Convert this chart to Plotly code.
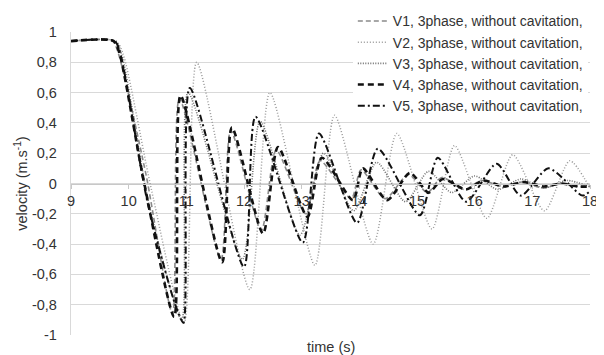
import plotly.graph_objects as go

# ---- data (time in s, velocity in m/s) ----
t_v1 = [9, 9.72, 9.82, 10.3, 10.76, 10.88, 11.6, 11.77, 12.3, 12.56, 13.07, 13.32, 13.86, 14.03, 14.45, 14.85, 15.18, 15.43, 15.82, 16.12, 16.48, 16.82, 17.18, 17.5, 17.8, 18]
v_v1 = [0.94, 0.94, 0.86, 0.06, -0.86, 0.56, -0.5, 0.35, -0.31, 0.22, -0.2, 0.15, -0.1, 0.09, -0.1, 0.06, -0.06, 0.04, -0.04, 0.02, -0.02, 0.01, -0.03, 0.0, -0.02, -0.02]

t_v2 = [9, 9.78, 9.9, 10.4, 10.96, 11.18, 12.1, 12.45, 13.23, 13.57, 14.24, 14.65, 15.26, 15.65, 16.21, 16.66, 17.21, 17.65, 18]
v_v2 = [0.94, 0.94, 0.86, -0.05, -0.92, 0.8, -0.7, 0.6, -0.54, 0.45, -0.4, 0.33, -0.3, 0.25, -0.23, 0.19, -0.18, 0.15, -0.03]

t_v3 = [9, 9.77, 9.88, 10.36, 10.92, 11.03, 11.97, 12.28, 12.97, 13.38, 13.9, 14.3, 14.8, 15.2, 15.6, 16.0, 16.4, 16.8, 17.2, 17.6, 18]
v_v3 = [0.94, 0.94, 0.85, -0.15, -0.9, 0.6, -0.5, 0.41, -0.34, 0.2, -0.18, 0.14, -0.12, 0.08, -0.06, 0.05, -0.04, 0.03, -0.03, 0.02, -0.02]

t_v4 = [9, 9.74, 9.84, 10.25, 10.79, 10.9, 11.62, 11.79, 12.33, 12.59, 13.1, 13.35, 13.89, 14.06, 14.48, 14.88, 15.2, 15.45, 15.85, 16.15, 16.5, 16.85, 17.2, 17.5, 17.8, 18]
v_v4 = [0.94, 0.94, 0.86, 0.04, -0.88, 0.58, -0.52, 0.37, -0.33, 0.24, -0.22, 0.17, -0.11, 0.1, -0.11, 0.07, -0.06, 0.03, -0.04, 0.02, -0.02, 0.01, -0.02, 0.0, -0.02, -0.02]

t_v5 = [9, 9.76, 9.86, 10.33, 10.8, 10.95, 11.06, 12.0, 12.2, 13.02, 13.3, 13.96, 14.32, 15.05, 15.36, 15.85, 16.38, 16.8, 17.28, 17.87, 18]
v_v5 = [0.94, 0.94, 0.85, -0.13, -0.79, -0.92, 0.63, -0.55, 0.44, -0.39, 0.33, -0.26, 0.23, -0.21, 0.17, -0.12, 0.13, -0.08, 0.1, -0.08, -0.05]

x_ticks = [9, 10, 11, 12, 13, 14, 15, 16, 17, 18]
x_ticklabels = ["9", "10", "11", "12", "13", "14", "15", "16", "17", "18"]
y_ticks = [1, 0.8, 0.6, 0.4, 0.2, 0, -0.2, -0.4, -0.6, -0.8, -1]
y_ticklabels = ["1", "0,8", "0,6", "0,4", "0,2", "0", "-0,2", "-0,4", "-0,6", "-0,8", "-1"]

names = ["V1, 3phase, without cavitation,", "V2, 3phase, without cavitation,",
         "V3, 3phase, without cavitation,", "V4, 3phase, without cavitation,",
         "V5, 3phase, without cavitation,"]

styles = [
    dict(color="#8a8a8a", width=1.6, dash="5px,3px"),
    dict(color="#999999", width=1.5, dash="1px,2px"),
    dict(color="#6e6e6e", width=1.6, dash="1px,1.5px"),
    dict(color="#111111", width=2.6, dash="6px,4px"),
    dict(color="#111111", width=2.0, dash="7px,3px,2px,3px"),
]

series = [(t_v1, v_v1), (t_v2, v_v2), (t_v3, v_v3), (t_v4, v_v4), (t_v5, v_v5)]

fig = go.Figure()
for (tx, vy), nm, st in zip(series, names, styles):
    fig.add_trace(go.Scatter(x=tx, y=vy, mode="lines", name=nm,
                             line=dict(shape="spline", smoothing=0.7, **st)))

# page body has an 8px default margin, so the figure is 596x347
font_family = "Liberation Sans, Arial, sans-serif"
txt = "#333333"
fig.update_layout(
    width=596, height=347,
    margin=dict(l=63, r=14, t=24, b=20, autoexpand=False),
    paper_bgcolor="white", plot_bgcolor="white",
    font=dict(family=font_family, size=14.5, color=txt),
    showlegend=True,
    legend=dict(x=0.543, xanchor="left", y=1.088, yanchor="top",
                bgcolor="white", borderwidth=0, itemwidth=30,
                font=dict(size=14, color=txt), tracegroupgap=0),
    xaxis=dict(range=[9, 18], anchor="free", position=0.5,
               tickvals=x_ticks, ticktext=x_ticklabels,
               showgrid=False, zeroline=False, showline=True,
               linecolor="#c8c8c8", linewidth=1.3,
               ticks="outside", ticklen=4, tickcolor="#c8c8c8",
               tickfont=dict(size=14.5, color=txt)),
    yaxis=dict(range=[-1, 1], tickvals=y_ticks, ticktext=y_ticklabels,
               showgrid=True, gridcolor="#d9d9d9", gridwidth=1.3,
               zeroline=False, showline=True, linecolor="#d9d9d9", linewidth=1.3,
               ticks="", ticklabelstandoff=10,
               tickfont=dict(size=14.5, color=txt),
               title=dict(text="velocity (m.s<sup>-1</sup>)", standoff=0,
                          font=dict(size=14.5, color=txt))),
    annotations=[dict(text="time (s)", x=0.5, y=-0.038, xref="paper", yref="paper",
                      xanchor="center", yanchor="middle", showarrow=False,
                      font=dict(size=14.5, color=txt))],
)

fig.write_html("out.html")
